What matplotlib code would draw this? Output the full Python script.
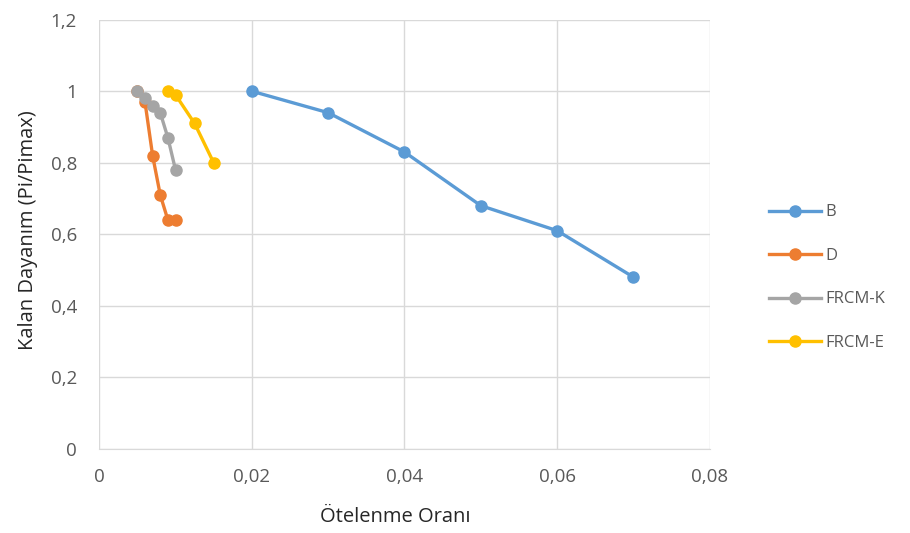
import matplotlib
matplotlib.use("Agg")
import matplotlib.pyplot as plt
from matplotlib.ticker import FuncFormatter, MultipleLocator

# data
b_x = [0.02, 0.03, 0.04, 0.05, 0.06, 0.07]
b_y = [1.0, 0.94, 0.83, 0.68, 0.61, 0.48]

d_x = [0.005, 0.006, 0.007, 0.008, 0.009, 0.010]
d_y = [1.0, 0.97, 0.82, 0.71, 0.64, 0.64]

k_x = [0.005, 0.006, 0.007, 0.008, 0.009, 0.010]
k_y = [1.0, 0.98, 0.96, 0.94, 0.87, 0.78]

e_x = [0.009, 0.010, 0.0125, 0.015]
e_y = [1.0, 0.99, 0.91, 0.80]

series = [("B", b_x, b_y, "#5B9BD5"),
          ("D", d_x, d_y, "#ED7D31"),
          ("FRCM-K", k_x, k_y, "#A5A5A5"),
          ("FRCM-E", e_x, e_y, "#FFC000")]

plt.rcParams["font.family"] = ["Open Sans", "DejaVu Sans"]

fig = plt.figure(figsize=(9.1, 5.33), dpi=100)
ax = fig.add_axes([0.109, 0.158, 0.671, 0.805])

for name, xs, ys, col in series:
    ax.plot(xs, ys, color=col, lw=2.4, marker="o", ms=8, label=name)

ax.set_xlim(0, 0.08)
ax.set_ylim(0, 1.2)
ax.xaxis.set_major_locator(MultipleLocator(0.02))
ax.yaxis.set_major_locator(MultipleLocator(0.2))

comma = FuncFormatter(lambda v, p: "0" if abs(v) < 1e-9 else f"{v:g}".replace(".", ","))
ax.xaxis.set_major_formatter(comma)
ax.yaxis.set_major_formatter(comma)

ax.grid(True, color="#D9D9D9", lw=1)
ax.set_axisbelow(True)
for s in ["top", "right", "left"]:
    ax.spines[s].set_visible(False)
ax.spines["bottom"].set_color("#D9D9D9")
ax.tick_params(length=0, labelsize=13.5, colors="#595959")
ax.tick_params(axis="y", pad=16)
ax.tick_params(axis="x", pad=14)

ax.set_xlabel("Ötelenme Oranı", fontsize=14.5, color="#262626")
ax.set_ylabel("Kalan Dayanım (Pi/Pimax)", fontsize=14.5, color="#262626")
ax.xaxis.set_label_coords(0.485, -0.135)
ax.yaxis.set_label_coords(-0.1, 0.51)

leg = fig.legend(loc="center left", bbox_to_anchor=(0.845, 0.479), frameon=False,
                 fontsize=12, labelspacing=1.65, handlelength=3.1, handletextpad=0.3,
                 borderpad=0, borderaxespad=0)
for t in leg.get_texts():
    t.set_color("#595959")

fig.savefig("out.png", dpi=100)
